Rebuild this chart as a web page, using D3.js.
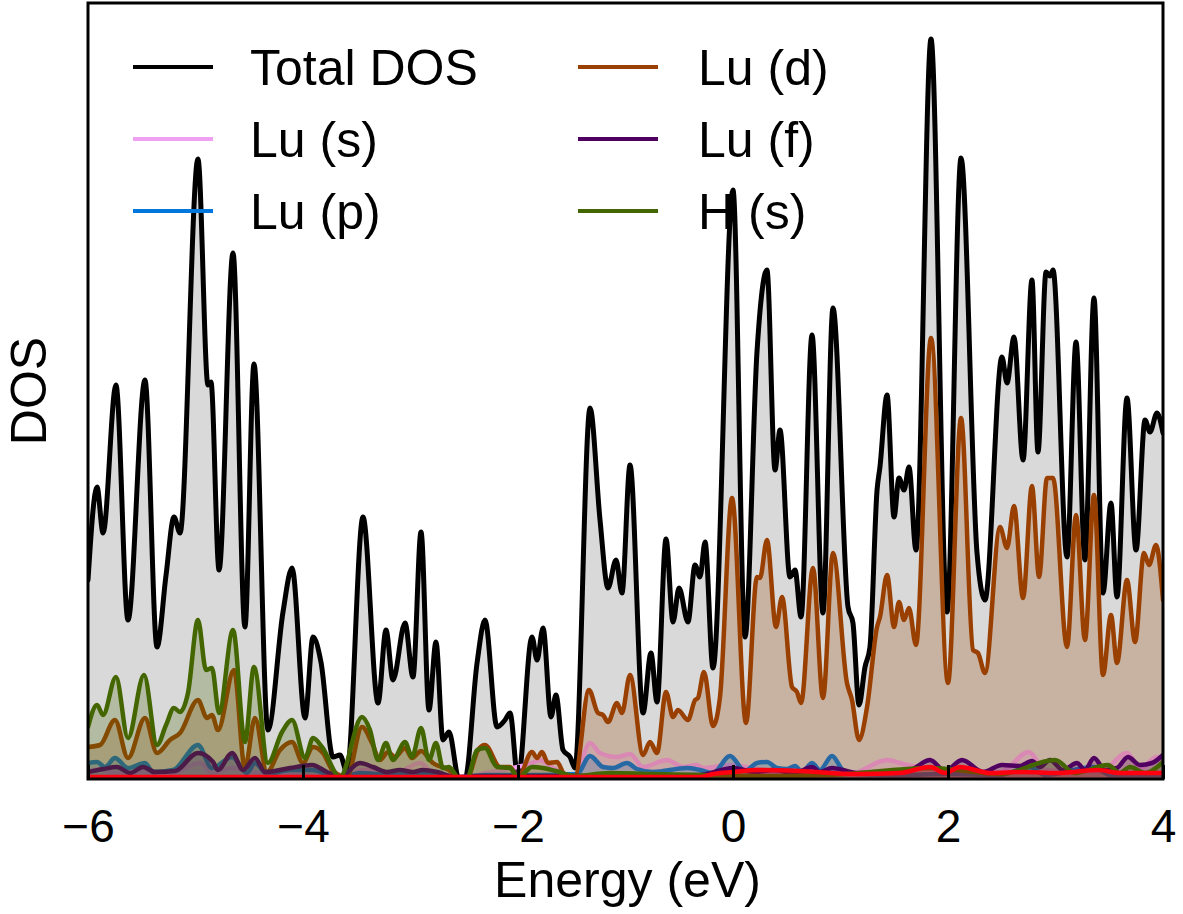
<!DOCTYPE html>
<html>
<head>
<meta charset="utf-8">
<script src="https://cdn.jsdelivr.net/npm/d3@7"></script>
<style>
  html, body { margin: 0; padding: 0; background: #fff; }
  svg text { font-family: "Liberation Sans", Arial, sans-serif; fill: #000; }
</style>
</head>
<body>
<svg id="chart" width="1183" height="914"></svg>
<script>
// Projected density of states of LuH, energies in eV relative to E_F.
const xTicks = [-6, -4, -2, 0, 2, 4];

const totalE = [-6.000,-5.916,-5.860,-5.740,-5.628,-5.470,-5.358,-5.274,-5.200,-5.144,-4.977,-4.884,-4.856,-4.781,-4.651,-4.540,-4.456,-4.326,-4.186,-4.102,-3.981,-3.907,-3.833,-3.721,-3.656,-3.591,-3.442,-3.302,-3.228,-3.163,-3.051,-2.977,-2.902,-2.828,-2.763,-2.698,-2.642,-2.549,-2.493,-2.381,-2.307,-2.195,-2.121,-2.074,-2.000,-1.870,-1.823,-1.767,-1.693,-1.647,-1.581,-1.516,-1.470,-1.330,-1.237,-1.163,-1.088,-1.033,-0.958,-0.837,-0.763,-0.707,-0.623,-0.558,-0.502,-0.419,-0.353,-0.307,-0.260,-0.186,0.000,0.112,0.223,0.316,0.391,0.437,0.530,0.577,0.633,0.735,0.837,0.930,1.070,1.116,1.172,1.228,1.274,1.340,1.367,1.433,1.498,1.544,1.591,1.637,1.702,1.842,1.991,2.121,2.270,2.344,2.502,2.549,2.614,2.698,2.781,2.837,2.912,2.949,2.977,3.107,3.191,3.274,3.358,3.442,3.516,3.572,3.665,3.749,3.833,3.879,3.944,4.000];
const totalV = [19.9,29.2,24.6,39.4,15.9,39.9,13.2,20.4,26.2,24.6,62.0,39.4,39.7,20.9,52.6,15.2,41.5,4.9,16.7,21.1,6.1,14.2,11.7,2.2,2.4,0.7,26.2,7.6,14.9,9.9,15.6,10.2,24.7,6.9,13.7,3.9,4.7,0,0,11.6,15.9,5.2,5.9,6.6,0,14.2,11.9,15.1,6.2,8.4,2.9,2.2,1.1,37.1,25.9,19.1,21.9,18.6,31.4,6.6,12.6,7.7,24.0,15.7,19.1,15.7,21.4,20.2,23.7,11.1,58.9,14.2,42.7,50.9,30.9,34.9,20.2,20.9,16.2,44.4,16.6,47.1,17.2,15.6,7.4,11.2,13.2,28.9,31.2,38.4,26.2,30.1,28.9,31.2,22.9,74.0,16.7,62.1,22.6,17.9,42.2,39.6,44.2,31.9,49.9,32.7,50.7,50.3,50.9,22.2,43.7,21.9,48.1,18.6,27.6,18.2,38.1,22.9,35.9,34.7,36.6,34.6];

const luSE = [-6.000,-5.888,-5.767,-5.516,-5.237,-4.958,-4.837,-4.660,-4.400,-4.028,-3.656,-3.442,-3.144,-2.912,-2.791,-2.586,-2.307,-1.870,-1.795,-1.674,-1.470,-1.330,-1.237,-1.079,-0.958,-0.837,-0.614,-0.465,-0.335,-0.279,-0.028,0.279,0.623,1.088,1.433,1.619,1.926,2.484,2.753,2.902,3.414,3.665,3.786,3.944,4.000];
const luSV = [0.8,1.0,0.6,0.7,0.5,1.6,0.6,1.1,0.6,0.4,0.1,0.9,0.6,1.6,0.6,0.1,0.6,1.6,1.9,1.1,0.3,3.6,2.6,2.2,2.5,1.2,1.9,1.2,1.4,1.1,1.4,0.9,0.7,0.5,1.9,1.4,0.9,0.7,2.7,0.9,0.7,2.6,1.1,2.2,1.6];

const luPE = [-6.000,-5.916,-5.842,-5.749,-5.628,-5.470,-5.395,-5.209,-4.977,-4.847,-4.660,-4.521,-4.447,-4.335,-4.121,-3.916,-3.656,-3.470,-3.191,-2.912,-2.633,-2.307,-1.795,-1.451,-1.330,-1.209,-1.116,-0.986,-0.893,-0.744,-0.428,-0.307,-0.186,-0.028,0.112,0.223,0.316,0.409,0.502,0.577,0.642,0.735,0.809,0.921,1.023,1.153,1.553,1.972,2.484,2.763,2.902,3.358,3.507,4.000];
const luPV = [1.6,1.7,1.2,2.1,1.1,1.6,0.7,0.9,3.4,1.1,2.2,0.6,1.6,0.5,0.9,0.9,0.1,0.6,0.4,0.6,0.1,0.4,0.4,0.5,2.3,1.2,1.1,1.6,1.0,0.7,1.1,0.9,0.6,2.3,0.8,1.6,1.7,1.1,1.0,1.3,0.7,1.6,0.9,2.3,0.9,0.5,0.4,0.5,0.4,1.2,0.4,1.2,0.4,0.4];

const luDE = [-6.000,-5.888,-5.749,-5.628,-5.470,-5.358,-5.237,-5.144,-4.977,-4.893,-4.847,-4.791,-4.642,-4.540,-4.447,-4.335,-4.214,-4.102,-4.000,-3.907,-3.814,-3.721,-3.591,-3.451,-3.358,-3.284,-3.209,-3.144,-3.051,-2.986,-2.902,-2.791,-2.642,-2.549,-2.474,-2.372,-2.307,-2.167,-2.074,-2.000,-1.870,-1.823,-1.777,-1.721,-1.637,-1.563,-1.470,-1.340,-1.256,-1.209,-1.163,-1.079,-1.033,-0.958,-0.837,-0.772,-0.707,-0.623,-0.558,-0.512,-0.419,-0.353,-0.326,-0.270,-0.186,-0.121,-0.009,0.121,0.223,0.251,0.316,0.400,0.456,0.549,0.595,0.633,0.744,0.837,0.930,1.060,1.107,1.172,1.247,1.340,1.367,1.433,1.498,1.544,1.591,1.637,1.702,1.842,2.000,2.121,2.233,2.279,2.344,2.484,2.549,2.614,2.698,2.781,2.847,2.921,2.977,3.107,3.191,3.274,3.358,3.442,3.516,3.572,3.665,3.740,3.823,3.870,3.935,4.000];
const luDV = [3.2,3.4,5.9,2.1,6.1,2.6,3.9,4.6,7.9,6.1,6.4,4.9,10.9,1.1,6.1,0.7,2.9,3.7,1.6,3.2,2.6,0.8,0.2,5.2,3.6,1.9,2.7,2.2,3.1,2.1,2.8,1.6,0.9,0.1,0.1,2.9,3.4,1.2,1.2,0.1,2.7,2.1,2.7,1.6,1.7,0.4,0.3,8.9,6.6,6.4,5.7,7.6,6.6,10.4,2.4,3.7,2.6,8.7,6.2,6.9,5.9,7.9,8.1,10.7,5.3,8.2,28.1,5.6,20.2,20.1,23.9,15.2,18.2,9.2,8.7,7.6,21.1,8.1,22.6,9.6,7.9,3.9,7.2,15.2,16.2,20.4,15.2,17.7,15.9,17.1,13.4,44.1,9.6,36.1,12.9,12.6,10.6,25.2,23.1,27.3,18.1,29.3,20.2,30.1,30.1,13.2,26.4,13.9,28.4,10.4,16.4,11.6,19.9,13.7,22.6,21.4,23.4,17.9];

const luFE = [-6.000,-5.860,-5.730,-5.609,-5.488,-5.377,-5.191,-4.977,-4.837,-4.791,-4.660,-4.558,-4.447,-4.353,-4.121,-3.916,-3.777,-3.656,-3.470,-3.349,-3.219,-3.098,-2.977,-2.884,-2.753,-2.586,-2.353,-1.888,-1.237,-0.307,0.000,0.205,0.372,0.577,0.735,0.809,0.921,1.153,1.414,1.647,1.833,1.972,2.130,2.326,2.502,2.670,2.781,2.856,2.949,3.070,3.200,3.274,3.358,3.460,3.572,3.674,3.786,3.898,4.000];
const luFV = [0.7,1.0,1.2,0.6,1.2,0.7,0.8,2.6,1.7,0.9,2.6,0.9,2.1,0.7,1.1,1.4,0.7,0.2,1.6,1.2,0.7,0.9,0.7,0.9,0.7,0.2,0.3,0.3,0.3,0.4,1.1,0.7,0.9,0.6,1.2,0.7,1.1,0.6,0.7,0.9,1.9,0.8,1.9,0.7,1.4,1.3,1.8,1.2,1.9,0.9,1.6,0.9,2.1,0.9,1.1,2.2,1.4,1.6,2.4];

const hSE = [-6.000,-5.916,-5.860,-5.740,-5.628,-5.479,-5.358,-5.274,-5.200,-5.144,-5.070,-4.977,-4.902,-4.847,-4.781,-4.651,-4.540,-4.456,-4.326,-4.195,-4.102,-3.981,-3.907,-3.823,-3.656,-3.451,-3.377,-3.302,-3.228,-3.163,-3.051,-2.986,-2.902,-2.828,-2.763,-2.698,-2.642,-2.549,-2.474,-2.381,-2.307,-2.195,-2.074,-2.000,-1.870,-1.767,-1.647,-1.470,-1.144,-0.772,-0.307,0.251,0.902,1.833,2.484,2.995,3.181,3.488,3.600,3.693,3.833,4.000];
const hSV = [5.2,7.4,6.4,10.2,4.1,10.4,3.4,5.4,7.1,6.7,8.6,15.9,10.9,11.1,6.6,14.9,3.7,11.2,1.6,4.7,5.9,2.1,4.1,3.2,0.2,6.2,4.9,1.9,3.6,1.9,3.7,2.2,5.1,1.9,3.6,1.1,1.2,0.1,0.1,2.9,3.1,1.2,1.1,0.1,1.2,1.1,0.8,0.3,0.6,0.5,0.4,0.3,0.4,1.1,0.5,1.9,0.6,1.4,0.6,1.2,0.6,1.7];

const restE = [-6.000,-3.098,-0.307,-0.186,0.000,0.223,0.623,1.153,1.553,1.833,1.972,2.112,2.391,2.698,3.014,3.395,3.600,4.000];
const restV = [0.2,0.2,0.2,0.5,0.7,0.9,0.8,0.5,0.6,1.2,0.6,1.2,0.6,0.7,0.6,0.9,0.6,0.6];

const seriesNames = ["Total DOS", "Lu (s)", "Lu (p)", "Lu (d)", "Lu (f)", "H (s)", ""];
const seriesColors = ["#000000", "#f0a0f0", "#0077dd", "#994000", "#500060", "#446600", "#ff0010"];
const seriesE = [totalE, luSE, luPE, luDE, luFE, hSE, restE];
const seriesV = [totalV, luSV, luPV, luDV, luFV, hSV, restV];

const svg = d3.select("#chart");
const L = 88, R = 1163, T = 3, B = 779;

const x = d3.scaleLinear().domain([-6, 4]).range([L, R]);
const y = d3.scaleLinear().domain([0, 77.6]).range([B, T]);

svg.append("defs").append("clipPath").attr("id", "plotClip")
  .append("rect").attr("x", L).attr("y", T).attr("width", R - L).attr("height", B - T);

const plot = svg.append("g").attr("clip-path", "url(#plotClip)");

const area = d3.area().curve(d3.curveMonotoneX)
  .x(d => x(d[0])).y0(y(0)).y1(d => y(d[1]));
const line = d3.line().curve(d3.curveMonotoneX)
  .x(d => x(d[0])).y(d => y(d[1]));

seriesE.forEach((es, i) => {
  const pts = es.map((e, k) => [e, seriesV[i][k]]);
  const isTotal = i === 0;
  plot.append("path").datum(pts)
    .attr("d", area)
    .attr("fill", isTotal ? "#808080" : seriesColors[i])
    .attr("fill-opacity", isTotal ? 0.3 : 0.25)
    .attr("stroke", "none");
  plot.append("path").datum(pts)
    .attr("d", line)
    .attr("fill", "none")
    .attr("stroke", seriesColors[i])
    .attr("stroke-width", isTotal ? 5 : 4.5)
    .attr("stroke-linejoin", "round")
    .attr("stroke-linecap", "round");
});

// Bottom axis with inward ticks
const xAxis = d3.axisBottom(x).tickValues(xTicks).tickSize(-14).tickPadding(30)
  .tickFormat(d3.format("d"));
const gx = svg.append("g").attr("transform", `translate(0,${B})`).call(xAxis);
gx.select(".domain").remove();
gx.selectAll(".tick line").attr("stroke", "#000").attr("stroke-width", 3);
gx.selectAll(".tick text").attr("font-size", 46).attr("fill", "#000")
  .attr("font-family", "Liberation Sans, Arial, sans-serif");

// Frame
svg.append("rect").attr("x", L).attr("y", T).attr("width", R - L).attr("height", B - T)
  .attr("fill", "none").attr("stroke", "#000").attr("stroke-width", 3);

// Axis titles
svg.append("text").attr("x", (L + R) / 2 + 2).attr("y", 897)
  .attr("text-anchor", "middle").attr("font-size", 50).text("Energy (eV)");
svg.append("text").attr("transform", `translate(46,${(T + B) / 2}) rotate(-90)`)
  .attr("text-anchor", "middle").attr("font-size", 50).text("DOS");

// Legend, two columns
const legendRows = [0, 1, 2];
const legendCols = [{ x: 133, tx: 250 }, { x: 578, tx: 698 }];
seriesNames.slice(0, 6).forEach((name, i) => {
  const col = legendCols[Math.floor(i / 3)];
  const cy = 67 + 72 * legendRows[i % 3];
  svg.append("line").attr("x1", col.x).attr("x2", col.x + 80)
    .attr("y1", cy).attr("y2", cy)
    .attr("stroke", seriesColors[i]).attr("stroke-width", 4);
  svg.append("text").attr("x", col.tx).attr("y", cy + 18)
    .attr("font-size", 50).text(name);
});
</script>
</body>
</html>
